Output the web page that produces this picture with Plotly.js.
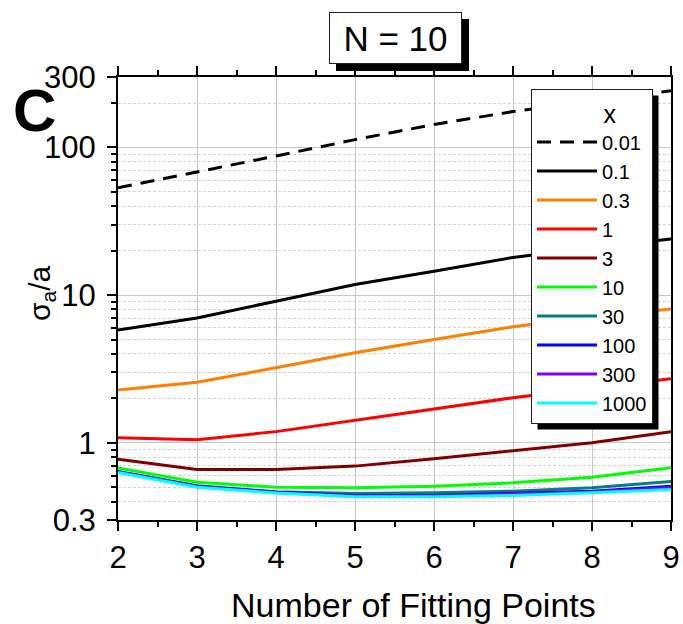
<!DOCTYPE html>
<html><head><meta charset="utf-8">
<script src="https://cdn.plot.ly/plotly-3.0.1.min.js"></script>
<style>html,body{margin:0;padding:0;background:#fff}#chart{width:683px;height:624px}</style>
</head><body><div id="chart"></div>
<script>
// ---- data ----
const fittingPoints = [2, 3, 4, 5, 6, 7, 8, 9];
const seriesNames = ['0.01', '0.1', '0.3', '1', '3', '10', '30', '100', '300', '1000'];
const s001  = [53.3, 67.9, 87.5, 113, 143, 175, 207, 242];
const s01   = [5.8, 7.0, 9.1, 11.8, 14.5, 18.0, 21, 24];
const s03   = [2.28, 2.57, 3.22, 4.07, 5.0, 6.1, 7.1, 8.07];
const s1    = [1.08, 1.05, 1.19, 1.42, 1.70, 2.02, 2.35, 2.71];
const s3    = [0.774, 0.66, 0.66, 0.695, 0.779, 0.878, 1.0, 1.19];
const s10   = [0.675, 0.541, 0.50, 0.496, 0.508, 0.536, 0.585, 0.677];
const s30   = [0.64, 0.512, 0.466, 0.454, 0.459, 0.47, 0.496, 0.547];
const s100  = [0.637, 0.508, 0.462, 0.44, 0.44, 0.454, 0.47, 0.508];
const s300  = [0.634, 0.505, 0.46, 0.437, 0.437, 0.449, 0.465, 0.498];
const s1000 = [0.63, 0.5, 0.457, 0.431, 0.431, 0.44, 0.459, 0.483];
const xTicks = [2, 3, 4, 5, 6, 7, 8, 9];
const yTickVals = [0.3, 1, 10, 100, 300];
const yTickText = ['0.3', '1', '10', '100', '300'];
const yMinorVals = [0.4,0.5,0.6,0.7,0.8,0.9, 2,3,4,5,6,7,8,9, 20,30,40,50,60,70,80,90, 200];

// ---- styles ----
const allSeries = [s001, s01, s03, s1, s3, s10, s30, s100, s300, s1000];
const colors = ['#000000','#000000','#ff8000','#ff0000','#800000','#00ff00','#008080','#0000ff','#8000ff','#00ffff'];
const FONT = '"Liberation Sans", Arial, sans-serif';

const traces = allSeries.map((ys, i) => ({
  x: fittingPoints, y: ys, name: seriesNames[i], type: 'scatter', mode: 'lines',
  line: {color: colors[i], width: 3, dash: i === 0 ? '14px,9px' : 'solid'}
}));

const W = 683, H = 624, M = {l: 118, r: 12, t: 77, b: 104};
const pw = W - M.l - M.r, ph = H - M.t - M.b;
const px = v => (v - M.l) / pw;
const py = v => (H - M.b - v) / ph;

const layout = {
  width: W, height: H, margin: M,
  paper_bgcolor: '#fff', plot_bgcolor: '#fff',
  font: {family: FONT, color: '#000', size: 30},
  showlegend: true,
  xaxis: {
    range: [2, 9], tickvals: xTicks, ticktext: xTicks.map(String),
    ticks: 'outside', ticklen: 9, tickwidth: 2, tickcolor: '#000',
    showline: true, linewidth: 2, linecolor: '#000', mirror: 'allticks',
    showgrid: true, gridcolor: '#c8c8c8', gridwidth: 1, zeroline: false,
    tickfont: {size: 31, family: FONT},
    minor: {dtick: 0.5, ticks: 'outside', ticklen: 5, tickwidth: 2, tickcolor: '#000', showgrid: false},
    title: {text: '&nbsp;&nbsp;&nbsp;&nbsp;Number of Fitting Points', font: {size: 34, family: FONT}, standoff: 20}
  },
  yaxis: {
    type: 'log', range: [Math.log10(0.3), Math.log10(300)],
    tickvals: yTickVals, ticktext: yTickText,
    ticks: 'outside', ticklen: 9, tickwidth: 2, tickcolor: '#000',
    showline: true, linewidth: 2, linecolor: '#000', mirror: true,
    showgrid: true, gridcolor: '#c8c8c8', gridwidth: 1, zeroline: false,
    tickfont: {size: 31, family: FONT}, ticklabelstandoff: 5,
    minor: {tickvals: yMinorVals, ticks: 'outside', ticklen: 5, tickwidth: 2, tickcolor: '#000',
            showgrid: true, gridcolor: '#d2d2d2', griddash: '3px,2px', gridwidth: 1}
  },
  yaxis2: {
    type: 'log', range: [Math.log10(0.3), Math.log10(300)], overlaying: 'y', side: 'right',
    tickvals: yTickVals, showticklabels: false,
    ticks: 'inside', ticklen: 9, tickwidth: 2, tickcolor: '#000',
    showline: true, linewidth: 2, linecolor: '#000', showgrid: false, zeroline: false,
    minor: {tickvals: yMinorVals, ticks: 'inside', ticklen: 5, tickwidth: 2, tickcolor: '#000', showgrid: false}
  },
  legend: {
    x: px(531), y: py(89), xanchor: 'left', yanchor: 'top',
    bgcolor: '#fff', bordercolor: '#222', borderwidth: 1,
    font: {size: 20, family: FONT},
    title: {text: '&nbsp;&nbsp;&nbsp;&nbsp;&nbsp;&nbsp;&nbsp;&nbsp;&nbsp;&nbsp;x', font: {size: 25, family: FONT}},
    itemwidth: 60, tracegroupgap: 0
  },
  shapes: [
    {type: 'rect', xref: 'paper', yref: 'paper', x0: px(537), x1: px(667), y0: py(95), y1: py(430),
     fillcolor: '#000', line: {width: 0}, layer: 'above'},
    {type: 'rect', xref: 'paper', yref: 'paper', x0: px(336), x1: px(469), y0: py(19), y1: py(71),
     fillcolor: '#000', line: {width: 0}, layer: 'above'}
  ],
  annotations: [
    {text: 'N = 10', xref: 'paper', yref: 'paper', x: px(395.5), y: py(37.5), xanchor: 'center', yanchor: 'middle',
     showarrow: false, width: 131, height: 50, borderpad: 0, borderwidth: 1, bordercolor: '#222', bgcolor: '#fff',
     font: {size: 35, family: FONT}},
    {text: '<b>C</b>', xref: 'paper', yref: 'paper', x: px(34), y: py(110), xanchor: 'center', yanchor: 'middle',
     showarrow: false, font: {size: 60, family: FONT}},
    {text: 'σ<sub>a</sub>/a', xref: 'paper', yref: 'paper', x: px(41), y: py(293), xanchor: 'center', yanchor: 'middle',
     textangle: -90, showarrow: false, font: {size: 30, family: FONT}}
  ]
};

Plotly.newPlot('chart', traces, layout, {displayModeBar: false, staticPlot: true}).then(gd => {
  const bg = gd.querySelector('.legend .bg');
  if (!bg) return;
  const r = bg.getBoundingClientRect();
  const c = gd.getBoundingClientRect();
  const L = r.left - c.left, T = r.top - c.top, R = r.right - c.left, B = r.bottom - c.top;
  return Plotly.relayout(gd, {
    'shapes[0].x0': px(L + 6), 'shapes[0].x1': px(R + 6),
    'shapes[0].y0': py(B + 6), 'shapes[0].y1': py(T + 6)
  });
});
</script>
</body></html>
